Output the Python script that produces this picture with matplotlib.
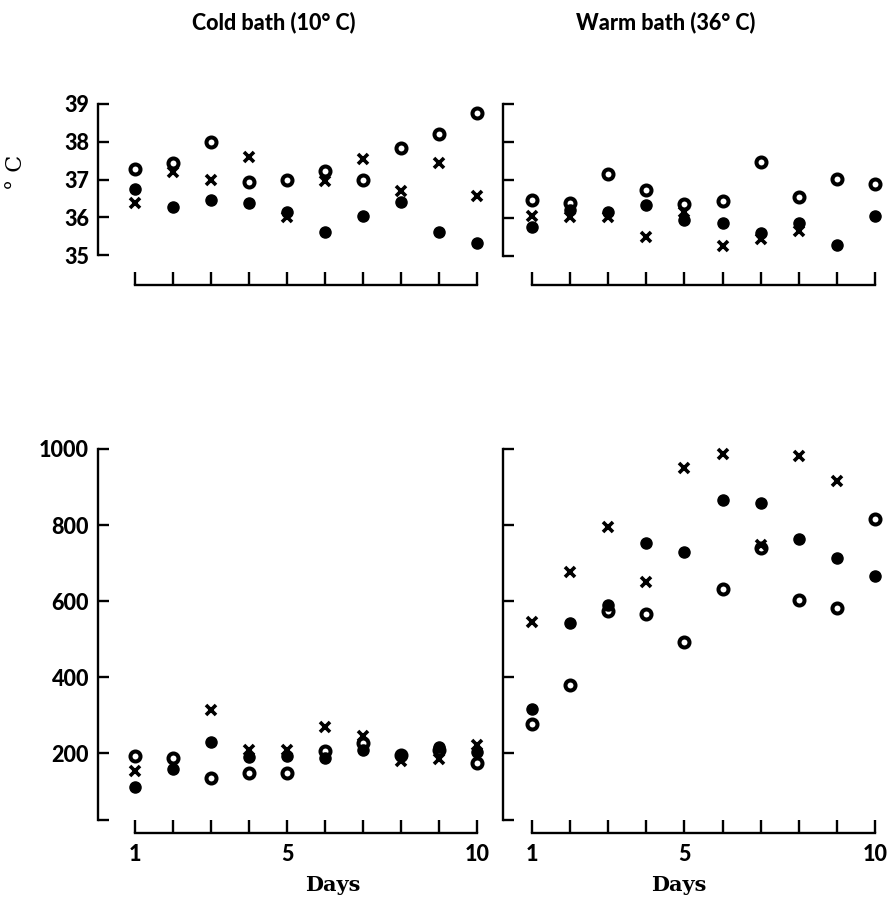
import numpy as np
import matplotlib
matplotlib.use("Agg")
import matplotlib.pyplot as plt

nan = np.nan
days = np.arange(1, 11)

# body temperature (deg C)
cold_temp_open = [37.28, 37.43, 38.0, 36.93, 37.0, 37.22, 36.99, 37.83, 38.2, 38.77]
cold_temp_filled = [36.74, 36.26, 36.46, 36.37, 36.15, 35.6, 36.02, 36.40, 35.62, 35.31]
cold_temp_cross = [36.39, 37.21, 36.99, 37.60, 36.0, 36.97, 37.54, 36.70, 37.43, 36.55]

warm_temp_open = [36.48, 36.4, 37.15, 36.74, 36.38, 36.46, 37.47, 36.54, 37.02, 36.89]
warm_temp_filled = [35.76, 36.21, 36.16, 36.33, 35.94, 35.88, 35.6, 35.86, 35.28, 36.05]
warm_temp_cross = [36.05, 36.02, 36.02, 35.5, 36.16, 35.26, 35.44, 35.66, nan, nan]

# lower panels
cold_count_open = [193, 187, 136, 149, 149, 206, 228, 196, 208, 174]
cold_count_filled = [112, 158, 230, 190, 193, 189, 210, 192, 217, 203]
cold_count_cross = [155, nan, 313, 208, 210, 270, 247, 180, 186, 221]

warm_count_open = [278, 380, 574, 567, 493, 632, 739, 602, 583, 815]
warm_count_filled = [318, 542, 591, 752, 728, 865, 858, 763, 713, 665]
warm_count_cross = [545, 676, 794, 650, 950, 987, 748, 982, 915, nan]

titles = ["Cold bath (10\u00b0 C)", "Warm bath (36\u00b0 C)"]
temp_ticks = [35, 36, 37, 38, 39]
count_ticks = [25, 200, 400, 600, 800, 1000]
count_labels = ["", "200", "400", "600", "800", "1000"]
day_ticks = [1, 5, 10]

W, H = 894, 898
fig = plt.figure(figsize=(W / 100, H / 100), dpi=100)

LABEL_FONT = "Lato"
LABEL_WEIGHT = 900


def px_axes(x0, x1, ytop, ybot):
    return fig.add_axes([x0 / W, 1 - ybot / H, (x1 - x0) / W, (ybot - ytop) / H])


def draw(ax, opn, fil, crs):
    ax.plot(days, opn, "o", ms=7.2, mfc="white", mec="black", mew=2.9, clip_on=False, zorder=3)
    ax.plot(days, fil, "o", ms=8, color="black", clip_on=False, zorder=3)
    ax.plot(days, crs, "x", ms=6.5, mew=2.6, color="black", clip_on=False, zorder=4)


def style(ax, left_out, bottom_out, ylim, yticks, ylabels, show_x):
    for s in ["top", "right"]:
        ax.spines[s].set_visible(False)
    ax.spines["left"].set_position(("outward", left_out))
    ax.spines["bottom"].set_position(("outward", bottom_out))
    ax.spines["left"].set_linewidth(1.7)
    ax.spines["bottom"].set_linewidth(1.7)
    ax.set_xlim(1, 10)
    ax.set_ylim(*ylim)
    ax.spines["left"].set_bounds(*ylim)
    ax.spines["bottom"].set_bounds(1, 10)
    ax.set_yticks(yticks)
    if ylabels is None:
        ax.set_yticklabels([])
    else:
        ax.set_yticklabels(ylabels, fontfamily=LABEL_FONT, fontweight=LABEL_WEIGHT, fontsize=15.5)
    ax.set_xticks(days)
    if show_x:
        ax.set_xticklabels([str(d) if d in day_ticks else "" for d in days],
                           fontfamily=LABEL_FONT, fontweight=LABEL_WEIGHT, fontsize=15.5)
    else:
        ax.set_xticklabels([])
    ax.tick_params(axis="y", direction="in", length=8, width=1.7, pad=6)
    ax.tick_params(axis="x", direction="in", length=9.5, width=1.7, pad=8)
    ax.patch.set_visible(False)


# top row: temperature
ax1 = px_axes(135, 477, 104, 255)
draw(ax1, cold_temp_open, cold_temp_filled, cold_temp_cross)
style(ax1, 27, 21.6, (35, 39), temp_ticks, [str(t) for t in temp_ticks], False)

ax2 = px_axes(532, 875, 104, 256)
draw(ax2, warm_temp_open, warm_temp_filled, warm_temp_cross)
style(ax2, 21, 21, (35, 39), temp_ticks, None, False)

# bottom row
ax3 = px_axes(135, 477, 449, 820)
draw(ax3, cold_count_open, cold_count_filled, cold_count_cross)
style(ax3, 27, 9.4, (25, 1000), count_ticks, count_labels, True)

ax4 = px_axes(532, 875, 449, 820)
draw(ax4, warm_count_open, warm_count_filled, warm_count_cross)
style(ax4, 21, 9.4, (25, 1000), count_ticks, None, True)

for xc in (333, 679):
    fig.text(xc / W, 1 - 885 / H, "Days", ha="center", va="center",
             family="DejaVu Serif", fontweight="bold", fontsize=15)

fig.text(274 / W, 1 - 22 / H, titles[0], ha="center", va="center",
         family=LABEL_FONT, fontweight=LABEL_WEIGHT, fontsize=15.5)
fig.text(666 / W, 1 - 22 / H, titles[1], ha="center", va="center",
         family=LABEL_FONT, fontweight=LABEL_WEIGHT, fontsize=15.5)
fig.text(16 / W, 1 - 172 / H, "\u00b0 C", rotation=90, ha="center", va="center",
         family="DejaVu Serif", fontsize=16)

fig.savefig("out.png", dpi=100, facecolor="white")
